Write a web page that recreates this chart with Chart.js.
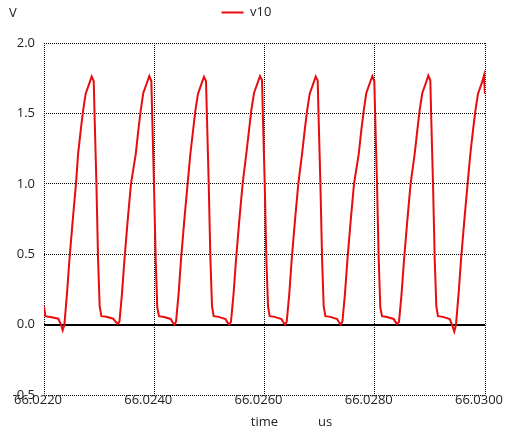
<!DOCTYPE html>
<html>
<head>
<meta charset="utf-8">
<script src="https://cdn.jsdelivr.net/npm/chart.js@4/dist/chart.umd.min.js"></script>
<style>
  html, body { margin: 0; padding: 0; background: #ffffff; }
  #wrap { width: 505px; height: 434px; }
</style>
</head>
<body>
<div id="wrap"><canvas id="chart" width="505" height="434"></canvas></div>
<script>
// Transient simulation trace of node v10 (time in microseconds, voltage in volts)
const seriesName = 'v10';

const timeUs = [
  66.022000, 66.022024, 66.022140, 66.022259, 66.022308, 66.022339,
  66.022370, 66.022417, 66.022461, 66.022521, 66.022580, 66.022619, 66.022666, 66.022709, 66.022756, 66.022829, 66.022865,
  66.022902, 66.022920, 66.022951, 66.022981, 66.023010, 66.023041, 66.023132, 66.023254, 66.023301, 66.023337,
  66.023368, 66.023415, 66.023459, 66.023518, 66.023578, 66.023664, 66.023711, 66.023754, 66.023801, 66.023874, 66.023910,
  66.023947, 66.023965, 66.023995, 66.024026, 66.024055, 66.024086, 66.024177, 66.024298, 66.024327, 66.024364,
  66.024395, 66.024442, 66.024485, 66.024545, 66.024605, 66.024656, 66.024703, 66.024746, 66.024794, 66.024866, 66.024902,
  66.024939, 66.024957, 66.024988, 66.025019, 66.025048, 66.025078, 66.025169, 66.025291, 66.025325, 66.025361,
  66.025392, 66.025439, 66.025483, 66.025543, 66.025603, 66.025672, 66.025719, 66.025762, 66.025810, 66.025882, 66.025918,
  66.025955, 66.025973, 66.026004, 66.026034, 66.026064, 66.026094, 66.026185, 66.026307, 66.026336, 66.026372,
  66.026403, 66.026450, 66.026493, 66.026553, 66.026613, 66.026682, 66.026729, 66.026773, 66.026820, 66.026893, 66.026929,
  66.026965, 66.026983, 66.027014, 66.027045, 66.027074, 66.027105, 66.027196, 66.027317, 66.027346, 66.027382,
  66.027413, 66.027460, 66.027504, 66.027564, 66.027624, 66.027709, 66.027756, 66.027800, 66.027847, 66.027919, 66.027956,
  66.027992, 66.028010, 66.028041, 66.028072, 66.028101, 66.028132, 66.028222, 66.028344, 66.028373, 66.028409,
  66.028440, 66.028487, 66.028531, 66.028591, 66.028650, 66.028725, 66.028772, 66.028815, 66.028863, 66.028935, 66.028971,
  66.029008, 66.029026, 66.029057, 66.029088, 66.029117, 66.029147, 66.029238, 66.029360, 66.029401, 66.029443,
  66.029474, 66.029521, 66.029565, 66.029625, 66.029684, 66.029735, 66.029782, 66.029826, 66.029873, 66.029946, 66.029982,
  66.030000
];

const v10Volts = [
  0.13, 0.06, 0.052, 0.042, 0.0, -0.04,
  0.0, 0.22, 0.46, 0.74, 1.0, 1.215, 1.38, 1.52, 1.64, 1.72, 1.762,
  1.73, 1.45, 1.0, 0.46, 0.13, 0.06, 0.055, 0.042, 0.02, 0.005,
  0.02, 0.22, 0.46, 0.74, 1.0, 1.21, 1.38, 1.52, 1.645, 1.725, 1.765,
  1.73, 1.45, 1.0, 0.46, 0.12, 0.06, 0.054, 0.04, 0.02, 0.0,
  0.02, 0.22, 0.46, 0.74, 1.0, 1.215, 1.375, 1.52, 1.64, 1.72, 1.76,
  1.73, 1.46, 1.0, 0.46, 0.13, 0.06, 0.055, 0.04, 0.018, 0.0,
  0.02, 0.22, 0.46, 0.74, 1.0, 1.22, 1.38, 1.525, 1.645, 1.725, 1.765,
  1.735, 1.45, 1.0, 0.46, 0.13, 0.06, 0.055, 0.04, 0.02, 0.0,
  0.02, 0.22, 0.46, 0.74, 1.0, 1.215, 1.38, 1.52, 1.64, 1.72, 1.762,
  1.734, 1.45, 1.0, 0.46, 0.13, 0.06, 0.055, 0.04, 0.02, 0.0,
  0.02, 0.22, 0.46, 0.74, 1.0, 1.21, 1.38, 1.52, 1.645, 1.725, 1.765,
  1.73, 1.45, 1.0, 0.46, 0.12, 0.06, 0.054, 0.04, 0.02, 0.005,
  0.02, 0.22, 0.46, 0.74, 1.0, 1.215, 1.38, 1.525, 1.645, 1.725, 1.768,
  1.735, 1.45, 1.0, 0.46, 0.13, 0.06, 0.055, 0.04, 0.0, -0.05,
  0.0, 0.22, 0.46, 0.74, 1.0, 1.215, 1.38, 1.52, 1.64, 1.72, 1.77,
  1.64
];

const timeTicks = [66.0220, 66.0240, 66.0260, 66.0280, 66.0300];
const voltTicks = [-0.5, 0.0, 0.5, 1.0, 1.5, 2.0];

const yUnit = 'V';
const xTitle = 'time';
const xUnit = 'us';

const TEXT_COLOR = '#222222';
const LINE_COLOR = '#e80c0c';
const FONT = { family: '"Open Sans", "DejaVu Sans", sans-serif', size: 13 };

const points = timeUs.map((t, i) => ({ x: t, y: v10Volts[i] }));

// Keeps the legend band at a fixed height and nudges the legend row sideways
const legendBand = {
  id: 'legendBand',
  beforeLayout(chart) {
    const legend = chart.legend;
    if (legend && !legend._fixedFit) {
      const fit = legend.fit;
      legend.fit = function () {
        fit.call(this);
        this.height = 43;
      };
      legend._fixedFit = true;
    }
  },
  afterLayout(chart) {
    if (chart.legend) {
      chart.legend.left += 4;
      chart.legend.right += 4;
    }
  }
};

// Unit captions: volts above the value axis, microseconds next to the time caption
const unitLabels = {
  id: 'unitLabels',
  afterDraw(chart) {
    const ctx = chart.ctx;
    ctx.save();
    ctx.font = `${FONT.size}px ${FONT.family}`;
    ctx.fillStyle = TEXT_COLOR;
    ctx.textAlign = 'left';
    ctx.textBaseline = 'middle';
    ctx.fillText(yUnit, 9, 13.5);
    ctx.fillText(xUnit, 318, 422);
    ctx.restore();
  }
};

const isZero = (c) => c.tick && Math.abs(c.tick.value) < 1e-9;

new Chart(document.getElementById('chart'), {
  type: 'line',
  data: {
    datasets: [{
      label: seriesName,
      data: points,
      borderColor: LINE_COLOR,
      backgroundColor: LINE_COLOR,
      borderWidth: 2,
      pointRadius: 0,
      tension: 0,
      fill: false
    }]
  },
  options: {
    responsive: false,
    animation: false,
    devicePixelRatio: 1,
    layout: { padding: { left: 0, right: 20, top: 0, bottom: 0 } },
    plugins: {
      tooltip: { enabled: false },
      legend: {
        display: true,
        position: 'top',
        labels: {
          usePointStyle: true,
          pointStyle: 'line',
          pointStyleWidth: 22,
          padding: 6,
          color: TEXT_COLOR,
          font: FONT
        }
      }
    },
    scales: {
      x: {
        type: 'linear',
        min: timeTicks[0],
        max: timeTicks[timeTicks.length - 1],
        afterBuildTicks: (s) => { s.ticks = timeTicks.map((v) => ({ value: v })); },
        afterFit: (s) => { s.height = 39; s.paddingLeft = 0; s.paddingRight = 0; },
        ticks: {
          autoSkip: false,
          maxRotation: 0,
          padding: -3,
          labelOffset: -6,
          color: TEXT_COLOR,
          font: FONT,
          callback: (v) => Number(v).toFixed(4)
        },
        grid: { color: '#000000', lineWidth: 1, drawTicks: false },
        border: { display: false, dash: [1, 1] },
        title: {
          display: true,
          text: xTitle,
          color: TEXT_COLOR,
          font: FONT,
          padding: { top: 0, bottom: 4 }
        }
      },
      y: {
        type: 'linear',
        min: voltTicks[0],
        max: voltTicks[voltTicks.length - 1],
        afterBuildTicks: (s) => { s.ticks = voltTicks.map((v) => ({ value: v })); },
        afterFit: (s) => { s.width = 44; s.paddingTop = 0; s.paddingBottom = 0; },
        ticks: {
          padding: 9,
          color: TEXT_COLOR,
          font: FONT,
          callback: (v) => Number(v).toFixed(1)
        },
        grid: {
          color: '#000000',
          lineWidth: (c) => (isZero(c) ? 2 : 1),
          drawTicks: false
        },
        border: {
          display: false,
          dash: (c) => (isZero(c) ? [] : [1, 1])
        }
      }
    }
  },
  plugins: [legendBand, unitLabels]
});
</script>
</body>
</html>
